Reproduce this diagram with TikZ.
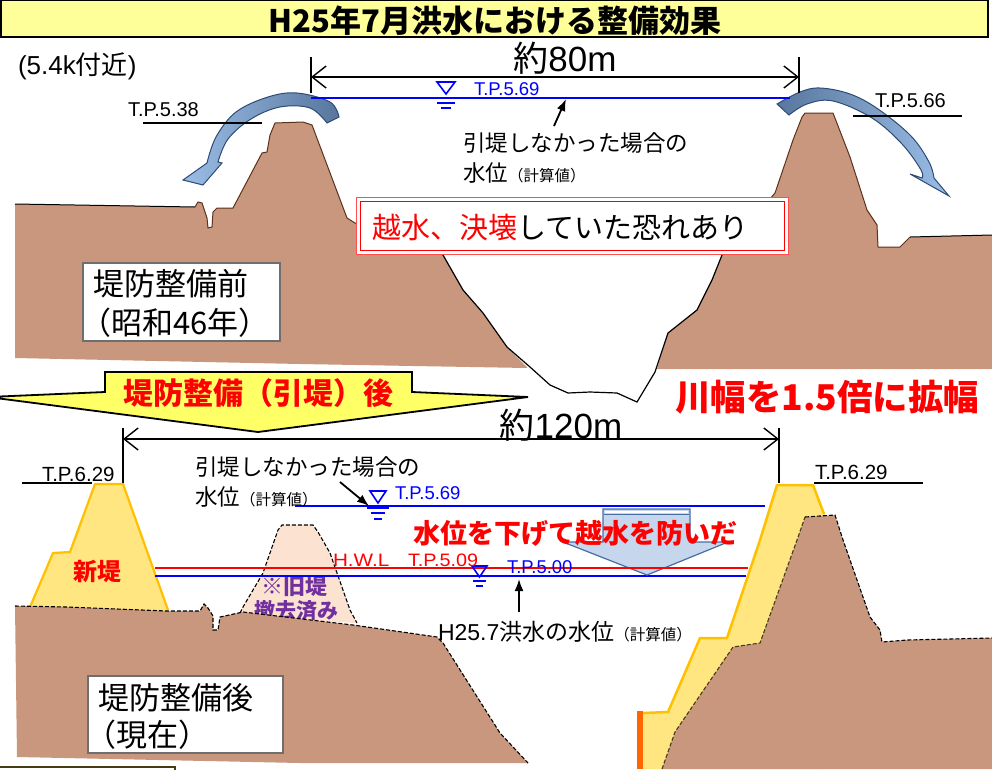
\documentclass[tikz,border=0pt]{standalone}
\usepackage{fontspec}
\setmainfont{Liberation Sans}
\newfontfamily\jp{Noto Sans CJK JP}
\usetikzlibrary{arrows.meta}
\newcommand\fsz[1]{\fontsize{#1}{#1}\selectfont}

\definecolor{brownG}{RGB}{201,151,125}
\definecolor{peach}{RGB}{252,226,208}
\definecolor{levY}{RGB}{255,230,128}
\definecolor{levO}{RGB}{255,192,0}
\definecolor{titleY}{RGB}{255,255,153}
\definecolor{bannerY}{RGB}{255,255,102}
\definecolor{dropFill}{RGB}{198,214,236}
\definecolor{dropEdge}{RGB}{70,110,165}
\definecolor{curvDark}{RGB}{88,118,158}
\definecolor{curvLight}{RGB}{155,190,230}
\definecolor{curvEdge}{RGB}{45,75,115}
\definecolor{purpleT}{RGB}{112,48,160}
\definecolor{wblue}{RGB}{0,0,255}
\definecolor{orangeBar}{RGB}{255,102,0}
\definecolor{boxgray}{RGB}{110,110,110}
\definecolor{edgeD}{RGB}{90,50,30}
\definecolor{oliveD}{RGB}{70,60,20}

\begin{document}
\begin{tikzpicture}[x=1pt,y=-1pt,
  lbl/.style={inner sep=0pt, outer sep=0pt},
  jlbl/.style={lbl, font=\jp},
  dimline/.style={line width=1.4pt, black, {Straight Barb[length=14pt,width=22pt]}-{Straight Barb[length=14pt,width=22pt]}},
  dimtick/.style={line width=1.4pt, black},
  tpline/.style={line width=2.2pt, black},
  wline/.style={line width=2.8pt, wblue},
  hwl/.style={line width=1.3pt, red},
  wsym/.style={line width=1.6pt, wblue},
  pointer/.style={line width=1.8pt, -{Latex[length=12pt,width=9pt]}},
  ground/.style={fill=brownG},
  gdash/.style={line width=1.1pt, dash pattern=on 4pt off 2pt},
  infobox/.style={draw=boxgray, line width=1.5pt, fill=white},
  curved/.style={left color=curvLight, right color=curvDark, draw=curvEdge, line width=1pt}
]
\useasboundingbox (0,0) rectangle (992,769);

% ---------- title band ----------
\draw[fill=titleY, line width=2pt] (1,0) rectangle (988,37);
\node[jlbl, font=\jp\bfseries\fsz{31}] (title) at (495,21) {H25年7月洪水における整備効果};

\node[lbl, font=\fsz{26}, anchor=west] (loc) at (18,66) {(5.4k{\jp 付近})};

% ---------- upper cross section: before the works ----------
\fill[ground] (15,204) -- (195,207) -- (198,202) -- (202,203) -- (207,218) -- (208,228)
  -- (212,227) -- (213,212) -- (217,208) -- (233,208) -- (262,153) -- (267,152) -- (270,135)
  -- (275,123) -- (303,122) -- (312,125) -- (347,218) -- (355,223) -- (400,238) -- (443,255)
  -- (463,290) -- (483,313) -- (507,347) -- (527,367) -- (527,368) -- (300,364) -- (15,358) -- cycle;
\fill[ground] (657,369) -- (668,333) -- (697,310) -- (712,280) -- (722,255) -- (775,193)
  -- (793,140) -- (802,117) -- (805,113) -- (833,113) -- (850,157) -- (867,210) -- (877,225)
  -- (878,247) -- (900,247) -- (910,237) -- (992,235) -- (992,369) -- cycle;
\draw[line width=1pt] (15,204) -- (195,207);
\draw[edgeD, line width=1pt] (195,207) -- (198,202) -- (202,203) -- (207,218) -- (208,228)
  -- (212,227) -- (213,212) -- (217,208) -- (233,208) -- (262,153) -- (267,152) -- (270,135)
  -- (275,123) -- (303,122) -- (312,125) -- (347,218) -- (355,223) -- (400,238) -- (443,255);
\draw[line width=1.2pt] (443,255) -- (463,290) -- (483,313) -- (507,347) -- (530,367)
  -- (550,385) -- (568,393) -- (590,392) -- (617,393) -- (637,402) -- (655,372) -- (668,333)
  -- (697,310) -- (712,280) -- (722,255);
\draw[edgeD, line width=1pt] (722,255) -- (775,193) -- (793,140) -- (802,117) -- (805,113)
  -- (833,113) -- (850,157) -- (867,210) -- (877,225) -- (878,247) -- (900,247) -- (910,237);
\draw[line width=1pt] (910,237) -- (992,235);

% overtopping arrows
\shadedraw[curved] plot[smooth, tension=0.6] coordinates {(339,117) (330,102) (297,93) (268,97) (236,112) (216,137) (207,163)}
  -- (183,180) -- (203,185) -- (222,163)
  -- plot[smooth, tension=0.6] coordinates {(218,162) (228,139) (251,119) (280,107) (310,108) (327,123)} -- cycle;
\shadedraw[curved, left color=curvDark, right color=curvLight] plot[smooth, tension=0.6] coordinates {(777,104) (800,92) (820,88) (850,94) (878,109) (911,136) (929,162) (934,178)}
  -- (949,196) -- (910,174)
  -- plot[smooth, tension=0.6] coordinates {(922,178) (921,170) (902,144) (872,118) (833,101) (807,104) (789,115)} -- cycle;

% crest levels
\draw[tpline] (143,123) -- (262,123);
\node[lbl, font=\fsz{20}, anchor=west] (tp538) at (128,110) {T.P.5.38};
\draw[tpline] (853,116) -- (962,116);
\node[lbl, font=\fsz{20}, anchor=west] (tp566) at (875,101) {T.P.5.66};

% width 80 m
\coordinate (w80a) at (311,77);
\coordinate (w80b) at (799,77);
\draw[dimtick] (311,57) -- (311,93);
\draw[dimtick] (799,57) -- (799,93);
\draw[dimline] (w80a) -- (w80b);
\node[lbl, font=\fsz{35}] (w80) at (565,58) {{\jp 約}80m};

% computed water level without set-back
\draw[wline] (311,98) -- (790,98);
\draw[wsym] (437,82) -- (455,82) -- (446,94) -- cycle;
\draw[wsym] (437,103) -- (455,103);
\draw[wsym] (441,108) -- (451,108);
\node[lbl, font=\fsz{18.5}, text=wblue, anchor=west] (tp569a) at (474,89) {T.P.5.69};
\coordinate (pa0) at (554,126);
\coordinate (pa1) at (566,99);
\draw[pointer] (pa0) -- (pa1);
\node[jlbl, font=\jp\fsz{22.5}, anchor=west] (noset1) at (463,143) {引堤しなかった場合の};
\node[jlbl, anchor=west] (noset2) at (463,173) {\fsz{22.5}水位\fsz{15.5}（計算値）};

% warning box
\draw[red!70, line width=1pt, fill=white] (356,197) rectangle (788,254);
\draw[red, line width=1pt] (360,201) rectangle (784,250);
\node[jlbl, font=\jp\fsz{29}, anchor=west] (warn) at (372,227) {{\color{red}越水、決壊}していた恐れあり};

\draw[infobox] (83,263) rectangle (280,341);
\node[jlbl, font=\jp\fsz{31}, anchor=west] (before1) at (93,284) {堤防整備前};
\node[jlbl, font=\jp\fsz{31}, anchor=west] (before2) at (80,323) {（昭和46年）};

% ---------- banner ----------
\draw[fill=bannerY, line width=1.8pt] (105,372) -- (412,372) -- (412,392) -- (528,397)
  -- (258,432) -- (-12,397) -- (105,392) -- cycle;
\node[jlbl, font=\jp\bfseries\fsz{30}, text=red] (banner) at (258,393) {堤防整備（引堤）後};
\node[jlbl, font=\jp\bfseries\fsz{35.5}, text=red, anchor=west] (widen) at (675,397) {川幅を1.5倍に拡幅};

% ---------- lower cross section: after the works ----------
% width 120 m
\coordinate (w120a) at (123,439);
\coordinate (w120b) at (779,439);
\draw[dimtick] (123,428) -- (123,484);
\draw[dimtick] (779,428) -- (779,483);
\draw[dimline] (w120a) -- (w120b);
\node[lbl, font=\fsz{35}] (w120) at (561,425) {{\jp 約}120m};

\draw[tpline] (22,483) -- (92,483);
\node[lbl, font=\fsz{20.5}, anchor=west] (tp629a) at (42,474) {T.P.6.29};
\draw[tpline] (814,483) -- (923,483);
\node[lbl, font=\fsz{20.5}, anchor=west] (tp629b) at (815,472) {T.P.6.29};

% removed old levee
\fill[peach] (240,613) -- (243,607) -- (263,573) -- (278,530) -- (282,525) -- (313,525)
  -- (318,532) -- (330,553) -- (350,610) -- (357,623) -- (300,620) -- cycle;
\draw[gdash] (240,613) -- (243,607) -- (263,573) -- (278,530) -- (282,525) -- (313,525)
  -- (318,532) -- (330,553) -- (350,610) -- (357,623);
\node[jlbl, font=\jp\bfseries\fsz{22}, text=purpleT] (old1) at (294,586) {※旧堤};
\node[jlbl, font=\jp\bfseries\fsz{21}, text=purpleT] (old2) at (296,611) {撤去済み};

% new levee, left bank
\fill[levY] (30,607) -- (53,553) -- (70,552) -- (95,484) -- (123,484) -- (168,610) -- (168,612) -- (30,610) -- cycle;
\draw[levO, line width=2.2pt, line join=round] (30,607) -- (53,553) -- (70,552) -- (95,484) -- (123,484) -- (168,610);
\node[jlbl, font=\jp\bfseries\fsz{24}, text=red] (newlev) at (97,571) {新堤};

% left bank ground
\fill[ground] (15,606) -- (67,607) -- (167,611) -- (200,611) -- (204,604) -- (208,608)
  -- (213,616) -- (213,630) -- (218,630) -- (220,617) -- (243,612) -- (353,625) -- (437,637)
  -- (443,643) -- (500,733) -- (528,763) -- (300,763) -- (17,757) -- cycle;
\draw[gdash] (15,606) -- (67,607) -- (167,611) -- (200,611) -- (204,604) -- (208,608)
  -- (213,616) -- (213,630) -- (218,630) -- (220,617) -- (243,612) -- (353,625) -- (437,637)
  -- (443,643) -- (500,733) -- (528,763);

% water levels
\draw[hwl] (155,568) -- (748,568);
\draw[wline] (155,576) -- (746,576);
\draw[wline] (295,506) -- (765,506);

% lowering arrow
\draw[fill=dropFill, draw=dropEdge, line width=1.2pt] (603,509) -- (690,509) -- (690,542)
  -- (728,542) -- (647,575) -- (563,542) -- (603,542) -- cycle;
\draw[white, line width=1.3pt] (605,512) -- (688,512);
\draw[dropEdge, line width=1pt] (604,514.5) -- (689,514.5);
\draw[hwl] (563,568) -- (730,568);
\node[jlbl, font=\jp\bfseries\fsz{27}, text=red, anchor=west] (lower) at (413,533) {水位を下げて越水を防いだ};

% symbols and labels on the water levels
\draw[wsym] (370,491) -- (386,491) -- (378,503) -- cycle;
\draw[wblue, line width=3.2pt] (367,507) -- (389,507);
\draw[wsym] (371,513) -- (385,513);
\draw[wsym] (374,519) -- (382,519);
\node[lbl, font=\fsz{18.5}, text=wblue, anchor=west] (tp569b) at (395,493) {T.P.5.69};

\draw[wsym] (472,566) -- (487,566) -- (479.5,577) -- cycle;
\draw[wsym] (473,581) -- (486,581);
\draw[wsym] (476,586) -- (483,586);
\node[lbl, font=\fsz{18.5}, text=wblue, anchor=west] (tp500) at (507,567) {T.P.5.00};
\node[lbl, font=\fsz{18}, text=red, anchor=west] (hwlA) at (333,560) {\scalebox{1.15}[1]{H.W.L}};
\node[lbl, font=\fsz{18}, text=red, anchor=west] (hwlB) at (408,560) {\scalebox{1.1}[1]{T.P.5.09}};

\node[jlbl, font=\jp\fsz{22.5}, anchor=west] (noset3) at (195,467) {引堤しなかった場合の};
\node[jlbl, anchor=west] (noset4) at (195,497) {\fsz{22.5}水位\fsz{15.5}（計算値）};
\coordinate (pb0) at (340,482);
\coordinate (pb1) at (369,506);
\draw[pointer] (pb0) -- (pb1);

\coordinate (pc0) at (519,612);
\coordinate (pc1) at (519,579);
\draw[pointer] (pc0) -- (pc1);
\node[lbl, anchor=west] (h25) at (438,632) {\fsz{23}H25.7{\jp 洪水の水位}{\jp\fsz{15.5}（計算値）}};

% new levee and ground, right bank
\fill[levY] (777,485) -- (813,485) -- (827,520) -- (820,769) -- (643,769) -- (643,713)
  -- (668,712) -- (700,638) -- (727,638) -- (760,540) -- cycle;
\draw[levO, line width=2.5pt, line join=round] (824,514) -- (813,485) -- (777,485) -- (760,540)
  -- (727,638) -- (700,638) -- (668,712) -- (643,713);
\fill[orangeBar] (637,711) rectangle (643,769);
\fill[ground] (805,517) -- (835,515) -- (843,540) -- (850,560) -- (870,617) -- (880,630)
  -- (882,642) -- (907,640) -- (992,638) -- (992,769) -- (662,769) -- (675,732) -- (733,647)
  -- (760,643) -- (797,540) -- cycle;
\draw[gdash, oliveD] (662,769) -- (675,732) -- (733,647) -- (760,643) -- (797,540) -- (805,517);
\draw[gdash] (805,517) -- (835,515) -- (843,540) -- (850,560) -- (870,617) -- (880,630)
  -- (882,642) -- (907,640) -- (992,638);

% caption box
\draw[infobox] (88,676) rectangle (283,753);
\node[jlbl, font=\jp\fsz{31}, anchor=west] (after1) at (98,698) {堤防整備後};
\node[jlbl, font=\jp\fsz{31}, anchor=west] (after2) at (85,735) {（現在）};

\draw[oliveD, line width=2pt] (-1,767) -- (175,767) -- (175,772);
\end{tikzpicture}
\end{document}
